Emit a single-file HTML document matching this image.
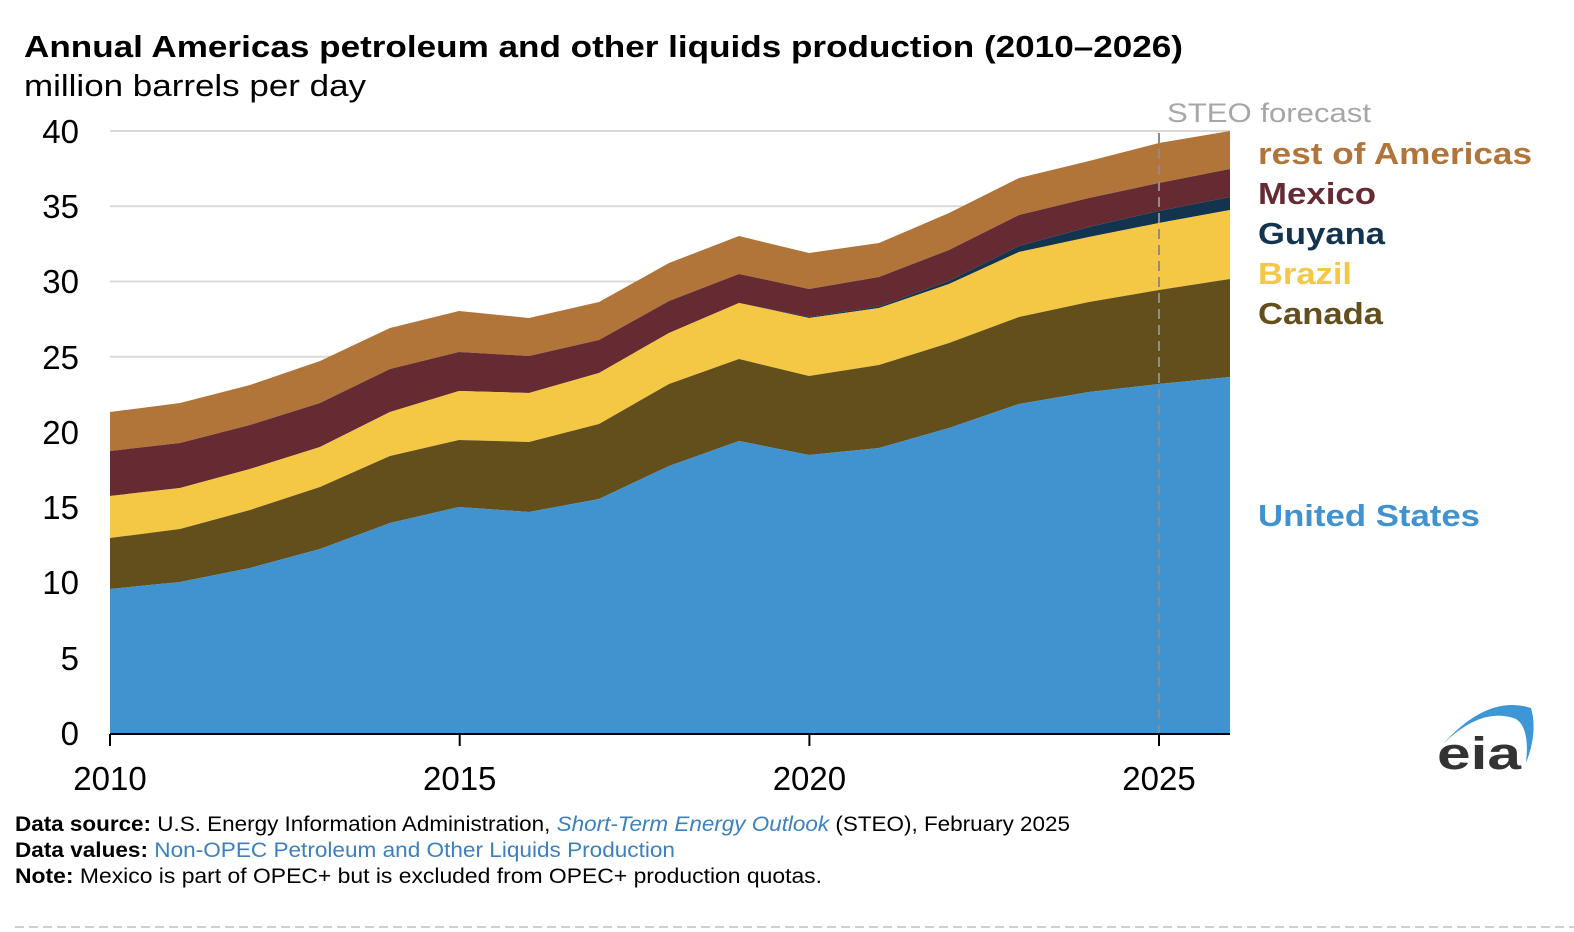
<!DOCTYPE html>
<html>
<head>
<meta charset="utf-8">
<style>
  html,body{margin:0;padding:0;background:#fff;}
  svg{display:block;}
  text{font-family:"Liberation Sans",sans-serif;}
</style>
</head>
<body>
<svg width="1574" height="932" viewBox="0 0 1574 932" xmlns="http://www.w3.org/2000/svg">
  <rect width="1574" height="932" fill="#fff"/>

  <!-- Title -->
  <text x="24" y="57" font-size="31" font-weight="bold" fill="#000" textLength="1159" lengthAdjust="spacingAndGlyphs">Annual Americas petroleum and other liquids production (2010–2026)</text>
  <text x="24" y="96" font-size="31" fill="#000" textLength="342" lengthAdjust="spacingAndGlyphs">million barrels per day</text>

  <!-- Gridlines -->
  <g stroke="#d9d9d9" stroke-width="2">
    <line x1="110" y1="131" x2="1230" y2="131"/>
    <line x1="110" y1="206.3" x2="1230" y2="206.3"/>
    <line x1="110" y1="281.5" x2="1230" y2="281.5"/>
    <line x1="110" y1="356.8" x2="1230" y2="356.8"/>
    <line x1="110" y1="432" x2="1230" y2="432"/>
    <line x1="110" y1="507.3" x2="1230" y2="507.3"/>
    <line x1="110" y1="582.5" x2="1230" y2="582.5"/>
    <line x1="110" y1="657.8" x2="1230" y2="657.8"/>
  </g>

  <!-- Stacked areas -->
  <polygon fill="#b1753a" points="110,412 180,403 250,385 320,361 390,328 459,311 529,318 599,302 669,263 739,236 809,253 879,243 949,213 1019,178 1089,161 1159,143 1230,131 1230,169 1159,183 1089,198 1019,215 949,250 879,277 809,289 739,274 669,301 599,340 529,356 459,352 390,369 320,403 250,425 180,443 110,451"/>
  <polygon fill="#662a33" points="110,451 180,443 250,425 320,403 390,369 459,352 529,356 599,340 669,301 739,274 809,289 879,277 949,250 1019,215 1089,198 1159,183 1230,169 1230,197 1159,211 1089,227 1019,246 949,281 879,306.5 809,317 739,303 669,333 599,373 529,393 459,391 390,412 320,447 250,469 180,488 110,496"/>
  <polygon fill="#12344e" points="110,496 180,488 250,469 320,447 390,412 459,391 529,393 599,373 669,333 739,303 809,317 879,306.5 949,281 1019,246 1089,227 1159,211 1230,197 1230,210 1159,223 1089,237 1019,252 949,284 879,308 809,318 739,303 669,333 599,373 529,393 459,391 390,412 320,447 250,469 180,488 110,496"/>
  <polygon fill="#f4c744" points="110,496 180,488 250,469 320,447 390,412 459,391 529,393 599,373 669,333 739,303 809,318 879,308 949,284 1019,252 1089,237 1159,223 1230,210 1230,279 1159,290 1089,302 1019,317 949,343 879,365 809,376 739,359 669,384 599,424 529,442 459,440 390,456 320,487 250,510 180,529 110,538"/>
  <polygon fill="#634f1c" points="110,538 180,529 250,510 320,487 390,456 459,440 529,442 599,424 669,384 739,359 809,376 879,365 949,343 1019,317 1089,302 1159,290 1230,279 1230,377 1159,384 1089,392 1019,404 949,428 879,448 809,455 739,441 669,466 599,499 529,512 459,507 390,523 320,549 250,568 180,582 110,589"/>
  <polygon fill="#4193cf" points="110,589 180,582 250,568 320,549 390,523 459,507 529,512 599,499 669,466 739,441 809,455 879,448 949,428 1019,404 1089,392 1159,384 1230,377 1230,734 110,734"/>

  <!-- Forecast line -->
  <line x1="1159" y1="133" x2="1159" y2="733" stroke="#8c8c8c" stroke-width="2" stroke-dasharray="10,6"/>
  <text x="1167" y="122" font-size="27" fill="#a6a6a6" textLength="204" lengthAdjust="spacingAndGlyphs">STEO forecast</text>

  <!-- Axis -->
  <line x1="110" y1="734" x2="1230" y2="734" stroke="#000" stroke-width="2"/>
  <g stroke="#000" stroke-width="2">
    <line x1="110" y1="734" x2="110" y2="746"/>
    <line x1="459.7" y1="734" x2="459.7" y2="746"/>
    <line x1="809.4" y1="734" x2="809.4" y2="746"/>
    <line x1="1159" y1="734" x2="1159" y2="746"/>
  </g>

  <!-- Y labels -->
  <g font-size="33" fill="#000" text-anchor="end">
    <text x="79" y="143">40</text>
    <text x="79" y="218">35</text>
    <text x="79" y="293">30</text>
    <text x="79" y="369">25</text>
    <text x="79" y="444">20</text>
    <text x="79" y="519">15</text>
    <text x="79" y="594">10</text>
    <text x="79" y="670">5</text>
    <text x="79" y="745">0</text>
  </g>

  <!-- X labels -->
  <g font-size="33" fill="#000" text-anchor="middle">
    <text x="110" y="790">2010</text>
    <text x="459.7" y="790">2015</text>
    <text x="809.4" y="790">2020</text>
    <text x="1159" y="790">2025</text>
  </g>

  <!-- Legend labels -->
  <g font-size="31" font-weight="bold">
    <text x="1258" y="164" fill="#b1753a" textLength="274" lengthAdjust="spacingAndGlyphs">rest of Americas</text>
    <text x="1258" y="204" fill="#662a33" textLength="118" lengthAdjust="spacingAndGlyphs">Mexico</text>
    <text x="1258" y="244" fill="#12344e" textLength="127" lengthAdjust="spacingAndGlyphs">Guyana</text>
    <text x="1258" y="284" fill="#f4c744" textLength="94" lengthAdjust="spacingAndGlyphs">Brazil</text>
    <text x="1258" y="324" fill="#634f1c" textLength="125" lengthAdjust="spacingAndGlyphs">Canada</text>
    <text x="1258" y="526" fill="#4193cf" textLength="222" lengthAdjust="spacingAndGlyphs">United States</text>
  </g>

  <!-- eia logo -->
  <path d="M1443,744 Q1488,694 1531,708 Q1538,732 1526,763 Q1530,728 1516,719 Q1482,706 1443,744 Z" fill="#3d96d6"/>
  <text x="1437" y="769" font-size="45" font-weight="bold" fill="#333" textLength="84" lengthAdjust="spacingAndGlyphs">eia</text>

  <!-- Footer -->
  <g font-size="21" fill="#000">
    <text x="15" y="831" textLength="1055" lengthAdjust="spacingAndGlyphs"><tspan font-weight="bold">Data source:</tspan> U.S. Energy Information Administration, <tspan font-style="italic" fill="#3b80c0">Short-Term Energy Outlook</tspan> (STEO), February 2025</text>
    <text x="15" y="857" textLength="660" lengthAdjust="spacingAndGlyphs"><tspan font-weight="bold">Data values:</tspan> <tspan fill="#3b80c0">Non-OPEC Petroleum and Other Liquids Production</tspan></text>
    <text x="15" y="883" textLength="807" lengthAdjust="spacingAndGlyphs"><tspan font-weight="bold">Note:</tspan> Mexico is part of OPEC+ but is excluded from OPEC+ production quotas.</text>
  </g>

  <!-- bottom dashed rule -->
  <line x1="15" y1="927" x2="1574" y2="927" stroke="#cfcfcf" stroke-width="2" stroke-dasharray="9,5"/>
</svg>
</body>
</html>
